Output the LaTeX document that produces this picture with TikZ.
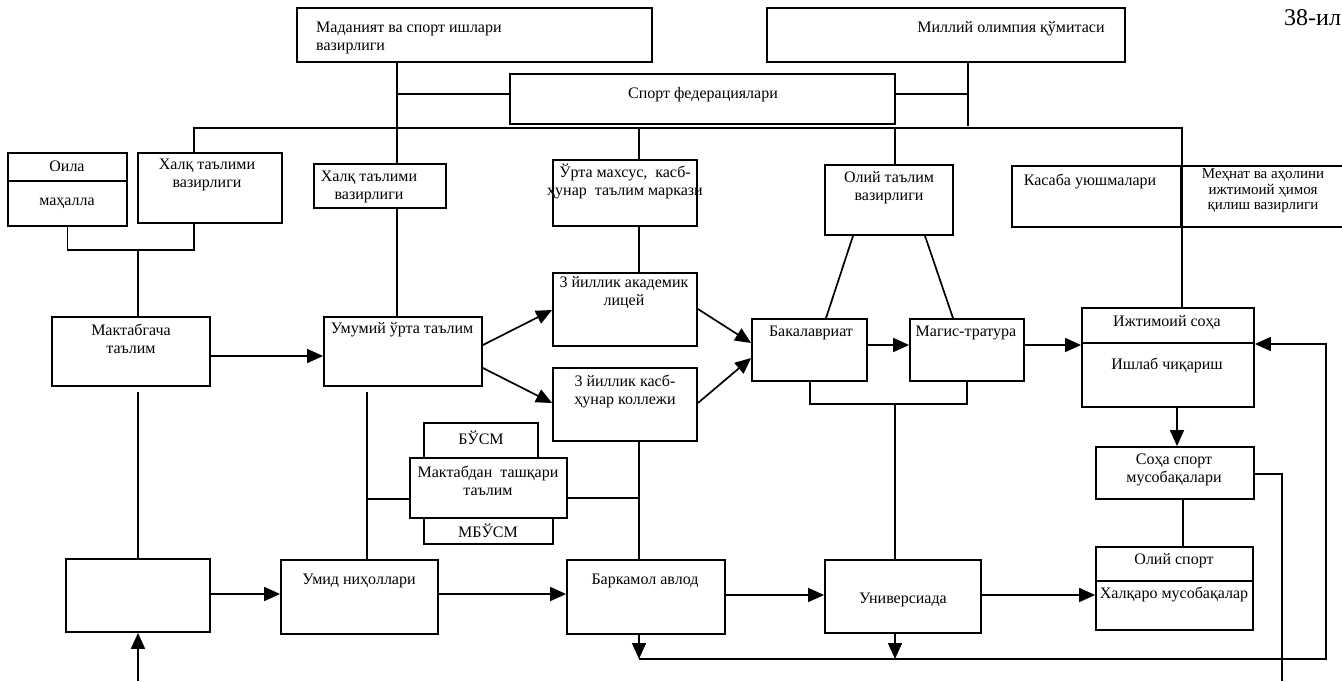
\documentclass[tikz,border=0pt]{standalone}
\usepackage{fontspec}
\setmainfont{Liberation Serif}
\usetikzlibrary{arrows.meta,fit}
\newcommand\fsz{\fontsize{16}{18}\selectfont}
\newcommand\fsm{\fontsize{15}{15.5}\selectfont}
\begin{document}
\begin{tikzpicture}[x=1pt,y=-1pt,
  box/.style={draw, line width=1.8pt, inner sep=0pt},
  ln/.style={line width=1.7pt},
  arr/.style={line width=1.7pt, -{Triangle[length=16pt,width=14pt]}},
  t/.style={font=\fsz, align=center, inner sep=0pt}]
\useasboundingbox (0,0) rectangle (1342,681);
\fill[white] (0,0) rectangle (1342,681);
% boxes
\node[box, fit={(297,8)(652,62)}] (mad) {};
\node[box, fit={(767,8)(1125,62)}] (mil) {};
\node[box, fit={(510,74)(895,124)}] (fed) {};
\node[box, fit={(8,153)(127,226)}] (oila) {};
\node[box, fit={(138,153)(282,223)}] (xt1) {};
\node[box, fit={(314,164)(446,208)}] (xt2) {};
\node[box, fit={(553,160)(697,226)}] (orta) {};
\node[box, fit={(825,165)(953,235)}] (oliy) {};
\node[box, fit={(1012,166)(1181,227)}] (kas) {};
\node[box, fit={(1181,166)(1352,227)}] (mehn) {};
\node[box, fit={(52,317)(210,386)}] (mkg) {};
\node[box, fit={(324,317)(482,386)}] (umu) {};
\node[box, fit={(553,273)(697,346)}] (lic) {};
\node[box, fit={(553,368)(697,441)}] (kol) {};
\node[box, fit={(752,319)(867,381)}] (bak) {};
\node[box, fit={(910,319)(1024,381)}] (mag) {};
\node[box, fit={(1082,308)(1254,407)}] (ijt) {};
\node[box, fit={(1096,447)(1254,499)}] (soha) {};
\node[box, fit={(424,423)(538,458)}] (busm) {};
\node[box, fit={(410,458)(567,518)}] (mxt) {};
\node[box, fit={(424,518)(553,544)}] (mbusm) {};
\node[box, fit={(66,559)(210,632)}] (empty) {};
\node[box, fit={(281,560)(438,634)}] (umid) {};
\node[box, fit={(567,560)(725,634)}] (bark) {};
\node[box, fit={(825,560)(981,633)}] (univ) {};
\node[box, fit={(1096,547)(1253,630)}] (osp) {};
% dividers
\draw[ln] (oila.west |- 0,181) -- (oila.east |- 0,181);
\draw[ln] (ijt.west |- 0,343) -- (ijt.east |- 0,343);
\draw[ln] (osp.west |- 0,581) -- (osp.east |- 0,581);
% named junctions
\coordinate (j1) at (397,94);
\coordinate (j2) at (968,94);
\coordinate (j3) at (968,126);
\coordinate (busL) at (194,128);
\coordinate (busR) at (1182,128);
\coordinate (lj) at (138,250);
\coordinate (lj2) at (194,250);
\coordinate (u1) at (367,392);
\coordinate (u2) at (367,499);
\coordinate (k2) at (639,498);
\coordinate (m1) at (138,392);
\coordinate (m0) at (138,681);
\coordinate (bl) at (639,659);
\coordinate (bm) at (895,659);
\coordinate (br) at (1326,659);
\coordinate (bb) at (967,404);
\coordinate (bu) at (895,404);
\coordinate (sr) at (1282,681);
% top connectors
\draw[ln] (mad.south -| j1) -- (xt2.north -| j1);
\draw[ln] (j1) -- (fed.west |- j1);
\draw[ln] (mil.south -| j2) -- (j3);
\draw[ln] (fed.east |- j2) -- (j2);
\draw[ln] (xt1.north -| busL) -- (busL) -- (busR) -- (ijt.north -| busR);
\draw[ln] (orta.north -| 639,0) -- (639,128);
\draw[ln] (oliy.north -| 895,0) -- (895,128);
% left group
\draw[ln] (oila.south) |- (lj2) -- (xt1.south -| lj2);
\draw[ln] (lj) -- (mkg.north -| lj);
\draw[ln] (xt2.south -| j1) -- (umu.north -| j1);
\draw[ln] (orta.south -| 639,0) -- (lic.north -| 639,0);
% arrows middle
\draw[arr] (mkg.east |- 0,356) -- (umu.west |- 0,356);
\draw[arr] (umu.east |- 0,345) -- (lic.west |- 0,310);
\draw[arr] (umu.east |- 0,368) -- (kol.west |- 0,403);
\draw[arr] (lic.east |- 0,309) -- (bak.west |- 0,343);
\draw[arr] (kol.east |- 0,403) -- (bak.west |- 0,358);
\draw[arr] (bak.east |- 0,345) -- (mag.west |- 0,345);
\draw[arr] (mag.east |- 0,345) -- (ijt.west |- 0,345);
\draw[ln] (oliy.south -| 853,0) -- (bak.north -| 826,0);
\draw[ln] (oliy.south -| 925,0) -- (mag.north -| 953,0);
\draw[ln] (bak.south -| 810,0) |- (bb) -- (mag.south -| bb);
\draw[ln] (bu) -- (univ.north -| bu);
% lower left
\draw[ln] (u1) -- (umid.north -| u1);
\draw[ln] (u2) -- (mxt.west |- u2);
\draw[ln] (kol.south -| k2) -- (bark.north -| k2);
\draw[ln] (mxt.east |- k2) -- (k2);
\draw[ln] (m1) -- (empty.north -| m1);
\draw[arr] (m0) -- (empty.south -| m0);
\draw[arr] (empty.east |- 0,594) -- (umid.west |- 0,594);
\draw[arr] (umid.east |- 0,594) -- (bark.west |- 0,594);
\draw[arr] (bark.east |- 0,595) -- (univ.west |- 0,595);
\draw[arr] (univ.east |- 0,595) -- (osp.west |- 0,595);
% bottom loop
\draw[arr] (bark.south -| bl) -- (bl);
\draw[arr] (univ.south -| bm) -- (bm);
\draw[arr] (bl) -- (br) -- (br |- 0,344) -- (ijt.east |- 0,344);
\draw[arr] (ijt.south -| 1177,0) -- (soha.north -| 1177,0);
\draw[ln] (soha.south -| 1183,0) -- (osp.north -| 1183,0);
\draw[ln] (soha.east |- 0,474) -| (sr);
% texts
\node[t, anchor=west, align=left] (tmad) at (316,38) {Маданият ва спорт ишлари\\вазирлиги};
\node[t] (tmil) at (1011,29) {Миллий олимпия қўмитаси};
\node[t] (tfed) at (703,95) {Спорт федерациялари};
\node[t] (toila) at (67,166) {Оила};
\node[t] (tmah) at (67,203) {маҳалла};
\node[t] (txt1) at (207,175) {Халқ таълими\\вазирлиги};
\node[t] (txt2) at (369,187) {Халқ таълими\\вазирлиги};
\node[t] (torta) at (625,181) {Ўрта махсус,\ \ касб-\\ҳунар\ \ таълим маркази};
\node[t] (toliy) at (889,188) {Олий таълим\\вазирлиги};
\node[t] (tkas) at (1090,181) {Касаба уюшмалари};
\node[t, font=\fsm] (tmeh) at (1263,191) {Меҳнат ва аҳолини\\ижтимоий ҳимоя\\қилиш вазирлиги};
\node[t] (tmkg) at (131,339) {Мактабгача\\таълим};
\node[t] (tumu) at (402,330) {Умумий ўрта таълим};
\node[t] (tlic) at (624,293) {3 йиллик академик\\лицей};
\node[t] (tkol) at (625,391) {3 йиллик касб-\\ҳунар коллежи};
\node[t] (tbak) at (811,333) {Бакалавриат};
\node[t] (tmag) at (966,333) {Магис-тратура};
\node[t] (tijt) at (1167,323) {Ижтимоий соҳа};
\node[t] (tish) at (1167,365) {Ишлаб чиқариш};
\node[t] (tsoha) at (1174,470) {Соҳа спорт\\мусобақалари};
\node[t] (tbusm) at (481,438) {БЎСМ};
\node[t] (tmxt) at (488,481) {Мактабдан\ \ ташқари\\таълим};
\node[t] (tmbusm) at (488,531) {МБЎСМ};
\node[t] (tumid) at (359,581) {Умид ниҳоллари};
\node[t] (tbark) at (645,581) {Баркамол авлод};
\node[t] (tuniv) at (903,600) {Универсиада};
\node[t] (tosp) at (1174,561) {Олий спорт};
\node[t] (thal) at (1174,594) {Халқаро мусобақалар};
\node[t, anchor=west, font=\fontsize{24}{26}\selectfont] (t38) at (1284,18) {38-ил};
\end{tikzpicture}
\end{document}
